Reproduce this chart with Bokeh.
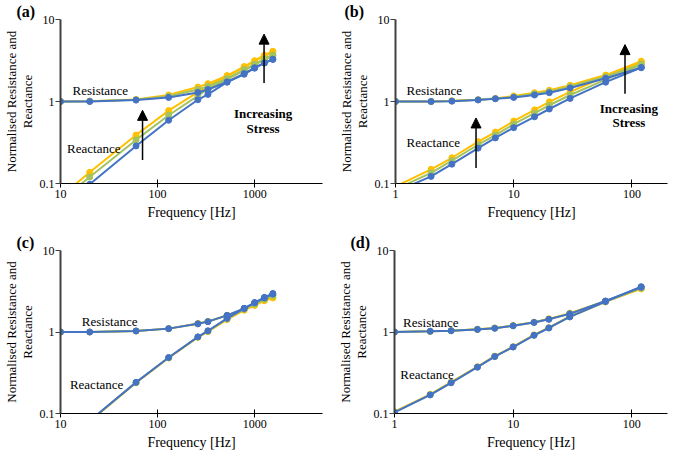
from bokeh.plotting import figure
from bokeh.layouts import column, row
from bokeh.models import Range1d, FixedTicker, CustomJSTickFormatter, Label, Arrow, NormalHead, Title
from bokeh.embed import file_html
from bokeh.resources import INLINE

# ---------------- data ----------------
freq_ac = [10, 20, 60, 130, 260, 330, 520, 780, 1000, 1260, 1540]
freq_bd = [1, 2, 3, 5, 7, 10, 15, 20, 30, 60, 120]

# panel (a)
res_a_yellow = [1.0, 1.01, 1.06, 1.20, 1.50, 1.65, 2.07, 2.67, 3.15, 3.67, 4.10]
res_a_green = [1.0, 1.01, 1.05, 1.16, 1.40, 1.53, 1.90, 2.45, 2.85, 3.30, 3.70]
res_a_blue = [1.0, 1.0, 1.04, 1.12, 1.29, 1.40, 1.73, 2.19, 2.58, 2.95, 3.26]
rea_a_yellow = [0.069, 0.137, 0.39, 0.775, 1.30, 1.55, 2.02, 2.62, 3.10, 3.60, 4.00]
rea_a_green = [0.062, 0.12, 0.34, 0.68, 1.17, 1.42, 1.86, 2.40, 2.80, 3.25, 3.62]
rea_a_blue = [0.05, 0.098, 0.287, 0.59, 1.05, 1.22, 1.72, 2.15, 2.55, 2.95, 3.28]

# panel (b)
res_b_yellow = [1.0, 1.0, 1.02, 1.05, 1.09, 1.17, 1.28, 1.37, 1.58, 2.10, 3.10]
res_b_green = [1.0, 1.0, 1.015, 1.05, 1.085, 1.14, 1.24, 1.32, 1.52, 2.00, 2.85]
res_b_blue = [1.0, 1.0, 1.01, 1.045, 1.08, 1.12, 1.20, 1.28, 1.46, 1.92, 2.58]
rea_b_yellow = [0.092, 0.149, 0.206, 0.324, 0.424, 0.577, 0.79, 0.99, 1.31, 2.02, 3.02]
rea_b_green = [0.085, 0.135, 0.19, 0.297, 0.39, 0.53, 0.72, 0.90, 1.20, 1.85, 2.80]
rea_b_blue = [0.079, 0.122, 0.172, 0.27, 0.36, 0.48, 0.65, 0.81, 1.09, 1.72, 2.60]

# panel (c)
res_c_yellow = [1.0, 1.0, 1.03, 1.10, 1.27, 1.35, 1.60, 1.88, 2.15, 2.45, 2.65]
res_c_green = [1.0, 1.0, 1.03, 1.10, 1.26, 1.34, 1.60, 1.92, 2.22, 2.55, 2.80]
res_c_blue = [1.0, 1.0, 1.03, 1.10, 1.26, 1.34, 1.60, 1.95, 2.30, 2.66, 2.97]
rea_c_yellow = [0.04, 0.08, 0.238, 0.48, 0.86, 1.01, 1.42, 1.85, 2.12, 2.42, 2.62]
rea_c_green = [0.04, 0.081, 0.24, 0.483, 0.865, 1.02, 1.45, 1.90, 2.20, 2.52, 2.78]
rea_c_blue = [0.041, 0.0815, 0.241, 0.486, 0.872, 1.035, 1.47, 1.95, 2.28, 2.62, 2.92]

# panel (d)
res_d_yellow = [1.0, 1.02, 1.036, 1.08, 1.12, 1.20, 1.32, 1.45, 1.70, 2.38, 3.38]
res_d_green = [1.0, 1.02, 1.036, 1.078, 1.115, 1.195, 1.315, 1.44, 1.68, 2.39, 3.45]
res_d_blue = [1.0, 1.02, 1.036, 1.075, 1.11, 1.19, 1.31, 1.43, 1.67, 2.40, 3.54]
rea_d_yellow = [0.105, 0.172, 0.242, 0.375, 0.505, 0.66, 0.92, 1.13, 1.55, 2.34, 3.40]
rea_d_green = [0.104, 0.17, 0.24, 0.372, 0.502, 0.657, 0.915, 1.125, 1.54, 2.35, 3.50]
rea_d_blue = [0.103, 0.169, 0.238, 0.37, 0.50, 0.654, 0.91, 1.12, 1.53, 2.36, 3.60]

x_ticks_ac = [10, 100, 1000]
x_ticks_bd = [1, 10, 100]
y_ticks = [0.1, 1, 10]

COLORS = {"yellow": "#FFC000", "green": "#A2C35F", "blue": "#4472C4"}
SERIF = "Liberation Serif"


def make_panel(tag, tag_shift, freq, res, rea, x_start, x_end, xticks, w, h, bl, br, bt, bb,
               res_lbl, rea_lbl, arrows=None, stress=None):
    p = figure(width=w, height=h, x_axis_type="log", y_axis_type="log",
               x_range=Range1d(x_start, x_end), y_range=Range1d(0.1, 10),
               output_backend="svg", toolbar_location=None,
               min_border_left=bl, min_border_right=br,
               min_border_top=bt, min_border_bottom=bb)
    p.outline_line_color = None
    p.xgrid.visible = False
    p.ygrid.visible = False
    p.background_fill_color = "white"
    p.border_fill_color = "white"

    # panel tag as a left-shifted title
    p.title = Title(text=tag, text_font=SERIF, text_font_style="bold",
                    text_font_size="16px", text_color="black", align="left",
                    offset=-bl + tag_shift, standoff=0, text_line_height=1.0)

    for key in ["yellow", "green", "blue"]:
        c = COLORS[key]
        for ys in (res[key], rea[key]):
            p.line(freq, ys, line_color=c, line_width=2)
            p.scatter(freq, ys, size=6, fill_color=c, line_color=c)

    fmt = CustomJSTickFormatter(code="return String(tick);")
    p.xaxis.ticker = FixedTicker(ticks=xticks, minor_ticks=[])
    p.yaxis.ticker = FixedTicker(ticks=y_ticks, minor_ticks=[])
    p.xaxis.formatter = fmt
    p.yaxis.formatter = fmt

    for ax in (p.xaxis, p.yaxis):
        ax.major_label_text_font = SERIF
        ax.major_label_text_font_size = "12px"
        ax.major_label_text_color = "black"
        ax.axis_label_text_font = SERIF
        ax.axis_label_text_font_style = "normal"
        ax.axis_label_text_color = "black"
        ax.minor_tick_line_color = None

    p.xaxis.axis_label = "Frequency [Hz]"
    p.xaxis.axis_label_text_font_size = "14px"
    p.xaxis.axis_label_text_line_height = 0.6
    p.xaxis.major_label_text_line_height = 0.6
    p.xaxis.axis_line_color = "black"
    p.xaxis.axis_line_width = 1.2
    p.xaxis.major_tick_line_color = "black"
    p.xaxis.major_tick_in = 4
    p.xaxis.major_tick_out = 4
    p.xaxis.major_label_standoff = 2
    p.xaxis.axis_label_standoff = 4

    p.yaxis.axis_label = "Normalised Resistance and\nReactance"
    p.yaxis.axis_label_text_font_size = "13px"
    p.yaxis.axis_label_text_line_height = 1.05
    p.yaxis.major_label_text_line_height = 1.0
    p.yaxis.axis_line_color = "#404040"
    p.yaxis.axis_line_width = 2
    p.yaxis.major_tick_line_color = "#404040"
    p.yaxis.major_tick_in = 0
    p.yaxis.major_tick_out = 5
    p.yaxis.major_label_standoff = 1
    p.yaxis.axis_label_standoff = 2

    p.add_layout(Label(x=res_lbl[0], y=res_lbl[1], text="Resistance", text_font=SERIF,
                       text_font_size="13px", text_baseline="middle", text_color="black"))
    p.add_layout(Label(x=rea_lbl[0], y=rea_lbl[1], text="Reactance", text_font=SERIF,
                       text_font_size="13px", text_baseline="middle", text_color="black"))

    if arrows:
        for (xa, y0, y1) in arrows:
            p.add_layout(Arrow(end=NormalHead(size=10, fill_color="black", line_color="black"),
                               x_start=xa, y_start=y0, x_end=xa, y_end=y1,
                               line_color="black", line_width=1.5))
    if stress:
        xs, y_inc, y_str = stress
        p.add_layout(Label(x=xs, y=y_inc, text="Increasing", text_font=SERIF,
                           text_font_style="bold", text_font_size="13px",
                           text_align="center", text_baseline="middle", text_color="black"))
        p.add_layout(Label(x=xs, y=y_str, text="Stress", text_font=SERIF,
                           text_font_style="bold", text_font_size="13px",
                           text_align="center", text_baseline="middle", text_color="black"))
    return p


pa = make_panel("(a)", 0, freq_ac,
                {"yellow": res_a_yellow, "green": res_a_green, "blue": res_a_blue},
                {"yellow": rea_a_yellow, "green": rea_a_green, "blue": rea_a_blue},
                10, 5000, x_ticks_ac, 334, 222, 44, 12, 13, 30,
                (13.3, 1.35), (11.7, 0.268),
                arrows=[(70, 0.193, 0.78), (1250, 1.68, 6.63)],
                stress=(1222, 0.72, 0.464))
pb = make_panel("(b)", 10, freq_bd,
                {"yellow": res_b_yellow, "green": res_b_green, "blue": res_b_blue},
                {"yellow": rea_b_yellow, "green": rea_b_green, "blue": rea_b_blue},
                1, 200, x_ticks_bd, 335, 222, 61, 2, 13, 30,
                (1.24, 1.38), (1.24, 0.312),
                arrows=[(4.8, 0.154, 0.63), (87.4, 1.24, 4.94)],
                stress=(94.3, 0.83, 0.55))
pc = make_panel("(c)", 0, freq_ac,
                {"yellow": res_c_yellow, "green": res_c_green, "blue": res_c_blue},
                {"yellow": rea_c_yellow, "green": rea_c_green, "blue": rea_c_blue},
                10, 5000, x_ticks_ac, 334, 230, 44, 12, 20, 30,
                (16.6, 1.36), (12.5, 0.225))
pd_ = make_panel("(d)", 10, freq_bd,
                 {"yellow": res_d_yellow, "green": res_d_green, "blue": res_d_blue},
                 {"yellow": rea_d_yellow, "green": rea_d_green, "blue": rea_d_blue},
                 1, 200, x_ticks_bd, 335, 230, 54, 2, 28, 30,
                 (1.18, 1.31), (1.12, 0.30))

layout = column(row(pa, pb), row(pc, pd_))
open("out.html", "w").write(file_html(layout, INLINE))
